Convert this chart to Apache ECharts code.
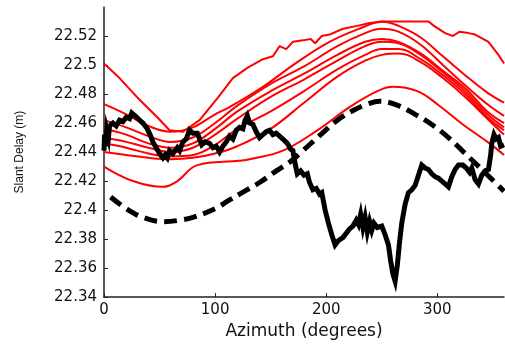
<!DOCTYPE html>
<html>
<head>
<meta charset="utf-8">
<script src="https://cdn.jsdelivr.net/npm/echarts@6/dist/echarts.min.js"></script>
<style>
  html, body { margin: 0; padding: 0; background: #fff; }
  #chart { width: 505px; height: 345px; }
</style>
</head>
<body>
<div id="chart"></div>
<script>
const xTicks = [0, 100, 200, 300];
const yTicks = [22.34, 22.36, 22.38, 22.4, 22.42, 22.44, 22.46, 22.48, 22.5, 22.52];

// measured slant delay (thick black)
const observed = [
  [0, 22.441], [0.5, 22.452], [1.5, 22.444], [2.5, 22.455], [4, 22.450], [5, 22.458], [8, 22.460],
  [11, 22.458], [14, 22.462], [17, 22.461], [20, 22.464], [23, 22.463], [25, 22.467], [28, 22.465],
  [32, 22.462], [35, 22.460], [39, 22.456], [42, 22.451], [44, 22.447], [47, 22.443], [50, 22.439],
  [53, 22.436], [55, 22.438], [57, 22.436], [59, 22.441], [62, 22.439], [66, 22.443], [68, 22.441],
  [71, 22.447], [74, 22.449], [77, 22.455], [80, 22.453], [84, 22.453], [86, 22.449], [88, 22.445],
  [91, 22.447], [95, 22.446], [98, 22.443], [101, 22.444], [104, 22.440], [107, 22.444], [110, 22.447],
  [113, 22.451], [116, 22.449], [119, 22.455], [122, 22.457], [125, 22.456], [127, 22.462], [129, 22.465],
  [131, 22.460], [134, 22.459], [137, 22.454], [140, 22.450], [143, 22.452], [146, 22.454], [149, 22.455],
  [152, 22.452], [155, 22.453], [158, 22.451], [161, 22.449], [165, 22.446], [168, 22.442], [170, 22.441],
  [172, 22.432], [174, 22.425], [177, 22.427], [180, 22.424], [183, 22.425], [185, 22.419], [188, 22.414],
  [191, 22.415], [194, 22.411], [196, 22.412], [199, 22.400], [202, 22.391], [205, 22.383], [208, 22.376],
  [211, 22.379], [215, 22.381], [218, 22.384], [221, 22.387], [224, 22.389], [227, 22.393], [229, 22.390],
  [231, 22.397], [233, 22.388], [235, 22.395], [237, 22.385], [239, 22.392], [241, 22.386], [243, 22.391],
  [246, 22.388], [250, 22.389], [253, 22.383], [256, 22.376], [258, 22.365], [260, 22.356], [262, 22.351],
  [264, 22.362], [266, 22.378], [268, 22.391], [271, 22.404], [274, 22.412], [277, 22.414], [280, 22.417],
  [283, 22.424], [286, 22.431], [289, 22.429], [292, 22.428], [295, 22.425], [298, 22.423], [301, 22.422],
  [304, 22.420], [307, 22.418], [310, 22.416], [313, 22.423], [316, 22.428], [319, 22.431], [323, 22.431],
  [326, 22.429], [329, 22.426], [331, 22.429], [334, 22.421], [337, 22.418], [340, 22.424], [343, 22.427],
  [346, 22.428], [348, 22.438], [349, 22.446], [351, 22.452], [353, 22.449], [355, 22.450], [357, 22.444],
  [360, 22.445]
];

// model (dashed black)
const model = [
  [6, 22.409], [20, 22.401], [35, 22.395], [53, 22.392], [68, 22.393], [80, 22.395], [100, 22.401],
  [113, 22.407], [122, 22.411], [140, 22.419], [155, 22.427], [167, 22.433], [179, 22.441], [195, 22.452],
  [210, 22.462], [225, 22.469], [237, 22.473], [248, 22.475], [265, 22.472], [280, 22.466], [295, 22.459],
  [310, 22.450], [325, 22.439], [340, 22.428], [360, 22.413]
];

// red curves
const redTop = [
  [0, 22.501], [14, 22.491], [32, 22.476], [48, 22.464], [59, 22.455], [71, 22.454], [86, 22.462],
  [102, 22.477], [116, 22.491], [129, 22.498], [143, 22.504], [152, 22.506], [158, 22.513], [164, 22.511],
  [170, 22.516], [179, 22.517], [186, 22.518], [190, 22.515], [196, 22.520], [203, 22.521], [215, 22.525],
  [228, 22.527], [239, 22.529], [253, 22.530], [274, 22.530], [292, 22.530], [297, 22.527], [307, 22.522],
  [314, 22.520], [320, 22.523], [328, 22.522], [334, 22.521], [346, 22.516], [355, 22.507], [360, 22.501]
];
const redA = [
  [0, 22.473], [20, 22.466], [40, 22.458], [60, 22.454], [80, 22.457], [100, 22.466], [113, 22.471],
  [143, 22.485], [174, 22.502], [203, 22.516], [233, 22.526], [250, 22.530], [265, 22.527], [285, 22.519],
  [305, 22.506], [325, 22.493], [345, 22.481], [360, 22.474]
];
const redB = [
  [0, 22.462], [20, 22.457], [40, 22.451], [60, 22.447], [80, 22.450], [100, 22.460], [120, 22.472],
  [150, 22.487], [180, 22.499], [210, 22.513], [235, 22.522], [250, 22.525], [265, 22.523], [285, 22.514],
  [305, 22.500], [325, 22.486], [345, 22.473], [360, 22.465]
];
const redC = [
  [0, 22.456], [20, 22.452], [40, 22.446], [60, 22.443], [80, 22.446], [100, 22.456], [120, 22.468],
  [150, 22.482], [180, 22.494], [210, 22.507], [235, 22.516], [250, 22.518], [265, 22.516], [285, 22.508],
  [305, 22.496], [325, 22.484], [345, 22.468], [360, 22.460]
];
const redD = [
  [0, 22.450], [20, 22.447], [40, 22.443], [60, 22.440], [80, 22.443], [100, 22.452], [120, 22.463],
  [150, 22.478], [180, 22.490], [210, 22.503], [235, 22.513], [250, 22.516], [265, 22.515], [285, 22.507],
  [305, 22.495], [325, 22.482], [345, 22.466], [360, 22.457]
];
const redE = [
  [0, 22.446], [20, 22.443], [40, 22.439], [60, 22.437], [80, 22.438], [100, 22.445], [120, 22.456],
  [150, 22.468], [180, 22.482], [210, 22.497], [235, 22.507], [250, 22.511], [265, 22.511], [285, 22.504],
  [305, 22.493], [325, 22.480], [345, 22.464], [360, 22.455]
];
const redF = [
  [0, 22.440], [20, 22.438], [40, 22.436], [60, 22.435], [80, 22.436], [100, 22.439], [120, 22.444],
  [150, 22.456], [180, 22.474], [210, 22.492], [235, 22.503], [250, 22.507], [265, 22.508], [285, 22.502],
  [305, 22.491], [325, 22.478], [345, 22.463], [360, 22.452]
];
const redLow = [
  [0, 22.430], [26, 22.420], [53, 22.416], [66, 22.420], [84, 22.431], [122, 22.434], [131, 22.435],
  [161, 22.441], [192, 22.455], [221, 22.471], [246, 22.482], [260, 22.485], [282, 22.482], [300, 22.473],
  [323, 22.459], [347, 22.446], [360, 22.438]
];

const redSeries = [redTop, redA, redB, redC, redD, redE, redF, redLow];

const chart = echarts.init(document.getElementById("chart"), null, { renderer: "canvas" });

const series = redSeries.map(function (d, i) {
  return {
    type: "line",
    data: d,
    showSymbol: false,
    smooth: i === 0 ? false : 0.4,
    lineStyle: { color: "#ff0000", width: 2 },
    z: 2
  };
});

series.push({
  type: "line",
  data: model,
  showSymbol: false,
  smooth: 0.4,
  lineStyle: { color: "#000", width: 5, type: [13, 7], cap: "butt" },
  z: 3
});

series.push({
  type: "line",
  data: observed,
  showSymbol: false,
  lineStyle: { color: "#000", width: 5, join: "miter" },
  z: 4
});

chart.setOption({
  animation: false,
  backgroundColor: "#fff",
  grid: { left: 104, right: 1, top: 7, bottom: 42 },
  xAxis: {
    type: "value",
    min: 0,
    max: 360,
    name: "Azimuth (degrees)",
    nameLocation: "middle",
    nameGap: 23,
    nameTextStyle: { fontFamily: "DejaVu Sans", fontSize: 17, color: "#111" },
    axisLine: { lineStyle: { color: "#222", width: 1.5 } },
    axisTick: { inside: true, length: 4, customValues: xTicks, lineStyle: { color: "#222" } },
    axisLabel: { customValues: xTicks, margin: 6, fontFamily: "DejaVu Sans", fontSize: 15, color: "#111" },
    splitLine: { show: false }
  },
  yAxis: {
    type: "value",
    min: 22.34,
    max: 22.54,
    name: "Slant Delay (m)",
    nameLocation: "middle",
    nameGap: 78,
    nameTextStyle: { fontFamily: "Liberation Sans", fontSize: 12, color: "#111" },
    axisLine: { show: true, lineStyle: { color: "#222", width: 1.5 } },
    axisTick: { show: true, inside: true, length: 4, customValues: yTicks, lineStyle: { color: "#222" } },
    axisLabel: { customValues: yTicks, margin: 7, fontFamily: "DejaVu Sans", fontSize: 15, color: "#111" },
    splitLine: { show: false }
  },
  series: series
});
</script>
</body>
</html>
